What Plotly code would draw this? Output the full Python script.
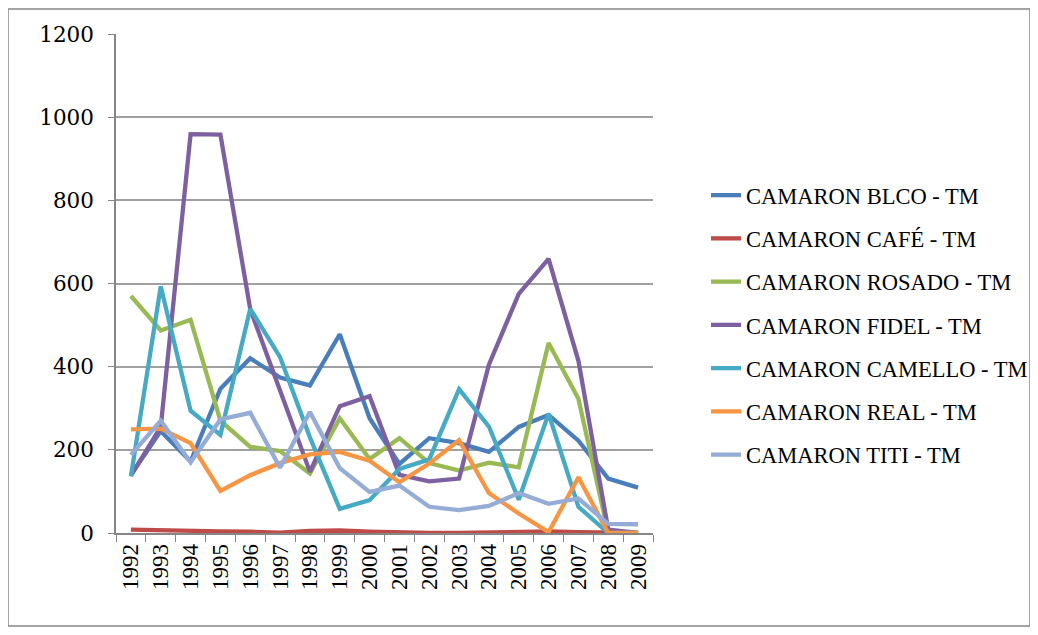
import plotly.graph_objects as go

years = [str(y) for y in range(1992, 2010)]

blco = [140, 245, 172, 347, 420, 374, 355, 478, 276, 166, 228, 216, 195, 255, 284, 222, 131, 109]
cafe = [8, 6, 5, 4, 3, 1, 5, 6, 3, 1, 0, 0, 1, 3, 4, 2, 0, 0]
rosado = [570, 487, 513, 270, 207, 197, 143, 276, 178, 228, 168, 150, 169, 158, 457, 323, 0, 0]
fidel = [138, 255, 959, 958, 538, 340, 147, 305, 329, 140, 124, 131, 405, 575, 659, 414, 8, 0]
camello = [136, 593, 294, 236, 539, 423, 230, 58, 79, 154, 177, 346, 256, 80, 287, 63, 0, 0]
real = [249, 251, 216, 101, 139, 168, 189, 195, 174, 122, 167, 223, 96, 47, 2, 134, 0, 0]
titi = [188, 270, 170, 273, 289, 157, 291, 156, 99, 114, 63, 55, 65, 96, 70, 83, 22, 21]

series_names = [
    "CAMARON BLCO - TM",
    "CAMARON CAFÉ - TM",
    "CAMARON ROSADO - TM",
    "CAMARON FIDEL - TM",
    "CAMARON CAMELLO - TM",
    "CAMARON REAL - TM",
    "CAMARON TITI - TM",
]
series_values = [blco, cafe, rosado, fidel, camello, real, titi]
series_colors = ["#4A7EBB", "#BE4B48", "#98B954", "#7D60A0", "#46AAC5", "#F69544", "#95ACD6"]

y_ticks = [0, 200, 400, 600, 800, 1000, 1200]

serif = "Liberation Serif"

# the page body adds 8px around the figure; height kept small enough to avoid a scrollbar
fig_w, fig_h = 1030, 619
plot_w, plot_h = 537, 499
left, top = 108, 26

fig = go.Figure()

for i, (name, values, color) in enumerate(zip(series_names, series_values, series_colors)):
    fig.add_trace(
        go.Scatter(
            x=years,
            y=values,
            mode="lines",
            name=name,
            legendgroup=f"g{i}",
            line={"color": color, "width": 4.3},
        )
    )

fig.update_layout(
    width=fig_w,
    height=fig_h,
    margin={"l": left, "r": fig_w - left - plot_w, "t": top, "b": fig_h - top - plot_h},
    paper_bgcolor="white",
    plot_bgcolor="white",
    font={"family": serif, "size": 22, "color": "black"},
    showlegend=True,
    # container-referenced legend so it does not push the right margin
    legend={
        "xref": "container",
        "yref": "container",
        "x": 698 / fig_w,
        "xanchor": "left",
        "y": 1 - 166 / fig_h,
        "yanchor": "top",
        "font": {"family": serif, "size": 22.5, "color": "black"},
        "tracegroupgap": 11,
        "bgcolor": "rgba(0,0,0,0)",
    },
    xaxis={
        "type": "category",
        "range": [-0.5, 17.5],
        "tickangle": -90,
        "tickson": "boundaries",
        "ticks": "outside",
        "ticklen": 7,
        "tickcolor": "#868686",
        "showline": True,
        "linecolor": "#868686",
        "linewidth": 1.5,
        "showgrid": False,
        "tickfont": {"family": serif, "size": 23},
    },
    yaxis={
        "range": [0, 1200],
        "tickvals": y_ticks,
        "ticks": "outside",
        "ticklen": 6,
        "tickcolor": "#868686",
        "ticklabelstandoff": 10,
        "showline": True,
        "linecolor": "#868686",
        "linewidth": 1.5,
        "showgrid": True,
        "gridcolor": "#A0A0A0",
        "gridwidth": 1.5,
        "zeroline": False,
        "tickfont": {"family": "DejaVu Serif", "size": 21.5},
    },
    shapes=[
        {
            "type": "rect",
            "xref": "paper",
            "yref": "paper",
            "x0": (0 - left) / plot_w,
            "x1": (1022 - left) / plot_w,
            "y0": (top + plot_h - (fig_h - 1)) / plot_h,
            "y1": (top + plot_h - 1) / plot_h,
            "line": {"color": "#868686", "width": 1.5},
            "layer": "below",
        }
    ],
)

fig.write_html("out.html")
